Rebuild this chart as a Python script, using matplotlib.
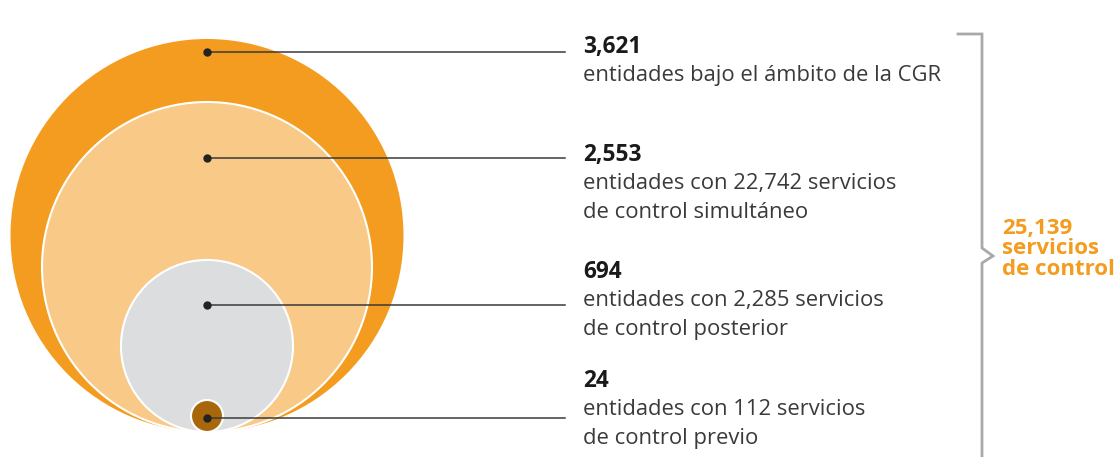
import numpy as np
import matplotlib.pyplot as plt
from matplotlib.patches import Circle

# Data
entidades = [3621, 2553, 694, 24]
etiquetas = ['entidades bajo el ámbito de la CGR',
             'entidades con 22,742 servicios\nde control simultáneo',
             'entidades con 2,285 servicios\nde control posterior',
             'entidades con 112 servicios\nde control previo']
total_servicios = '25,139\nservicios\nde control'

colores = ['#F39C1F', '#F8C987', '#DCDDDE', '#A8670A']
bordes = ['none', 'white', 'white', 'white']

# Layout (pixel coordinates)
W, H = 1117, 457
cx, base, R = 207, 432, 196.5
dot_y = [52, 158, 305, 418]
text_y = [47, 155, 272, 381]

fig = plt.figure(figsize=(W / 100, H / 100), dpi=100)
ax = fig.add_axes([0, 0, 1, 1])
ax.set_xlim(0, W)
ax.set_ylim(H, 0)
ax.set_aspect('equal')
ax.axis('off')

plt.rcParams['font.family'] = ['Open Sans', 'DejaVu Sans']

for n, col, ec in zip(entidades, colores, bordes):
    r = R * np.sqrt(n / entidades[0])
    ax.add_patch(Circle((cx, base - r), r, facecolor=col, edgecolor=ec,
                        linewidth=1.5, zorder=2))

for n, lab, dy, ty in zip(entidades, etiquetas, dot_y, text_y):
    ax.plot([cx, 565], [dy, dy], color='#3a3a3a', lw=1.1, zorder=3)
    ax.plot(cx, dy, 'o', color='#222222', ms=5, zorder=4)
    ax.text(583, ty, f'{n:,}', fontsize=16.3, fontweight='bold',
            color='#1a1a1a', va='center', ha='left')
    ax.text(583, ty + 18, lab, fontsize=15.8, color='#3a3a3a',
            va='top', ha='left', linespacing=1.5)

# bracket
bx = [958, 982, 982, 993, 982, 982]
by = [34, 34, 248, 256, 263, H + 5]
ax.plot(bx, by, color='#A7A9AC', lw=2, solid_joinstyle='miter', clip_on=False)

ax.text(1002, 249, total_servicios, fontsize=16, fontweight='bold',
        color='#F39C1F', va='center', ha='left', linespacing=0.98)

fig.savefig('out.png', dpi=100)
